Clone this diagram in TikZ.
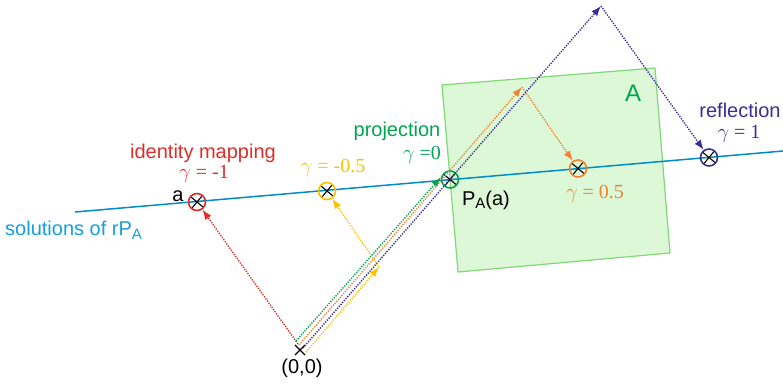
\documentclass[tikz,border=0pt]{standalone}
\usepackage{fontspec}
\setmainfont{Liberation Sans}
\newfontfamily\gserif{Liberation Serif}
\usetikzlibrary{arrows.meta,shapes.misc,calc}
\definecolor{cred}{RGB}{225,45,40}
\definecolor{cyel}{RGB}{250,195,0}
\definecolor{cgrn}{RGB}{0,165,80}
\definecolor{corg}{RGB}{240,130,50}
\definecolor{cpur}{RGB}{60,45,150}
\definecolor{cline}{RGB}{0,140,200}
\definecolor{clab}{RGB}{20,160,220}
\definecolor{boxfill}{RGB}{220,248,215}
\definecolor{boxdraw}{RGB}{130,215,120}
\newcommand{\subA}{\raisebox{-0.35ex}{\fontsize{15}{15}\selectfont A}}
\begin{document}
\begin{tikzpicture}[x=1pt,y=-1pt,
  xcirc/.style={circle, draw=#1, line width=1.6pt, minimum size=17pt, inner sep=0pt,
    path picture={\draw[black, line width=1.1pt]
      ([shift={(-6,-5)}]path picture bounding box.center) -- ([shift={(6,5)}]path picture bounding box.center)
      ([shift={(-5,6)}]path picture bounding box.center) -- ([shift={(5,-6)}]path picture bounding box.center);}},
  vec/.style={draw=#1, line width=1.4pt, dash pattern=on 1.3pt off 1.3pt, -{Latex[length=10pt,width=7.5pt]}},
  lab/.style={text=#1, font=\fontsize{20}{24}\selectfont, inner sep=0pt},
  glab/.style={text=#1, font=\gserif\fontsize{20}{24}\selectfont, inner sep=0pt},
  every node/.append style={inner sep=0pt}]
\useasboundingbox (0,0) rectangle (783,384);
% box A
\draw[fill=boxfill, draw=boxdraw, line width=1.2pt] (442,85) -- (655,68) -- (670,253) -- (458,272) -- cycle;
\node[lab=cgrn, font=\fontsize{24}{28}\selectfont] (Alab) at (633,93) {A};
% line of solutions
\coordinate (L1) at (75,212);
\coordinate (L2) at (783,151);
\draw[cline, line width=1.5pt] (L1) -- (L2);
\node[lab=clab, anchor=west] (sol) at (5,230) {solutions of rP\subA};
% origin
\node[cross out, draw=black, line width=1.1pt, minimum size=9pt] (O) at (300,350) {};
\node[lab=black] (Olab) at (302,368) {(0,0)};
% points on line
\node[xcirc=cred] (a) at (197,202) {};
\node[xcirc=cyel] (gm) at (327,191) {};
\node[xcirc=cgrn] (pa) at (450,179.5) {};
\node[xcirc=corg] (gp) at (578,168.5) {};
\node[xcirc=cpur] (rf) at (709,157.5) {};
% start coordinates
\coordinate (sr) at (298,344);
\coordinate (sg) at (296,341);
\coordinate (so) at (299,345);
\coordinate (sp) at (303,348);
\coordinate (sy) at (306,352);
\coordinate (ty) at (379,267);
\coordinate (to) at (522,87);
\coordinate (tp) at (601,6);
% vectors
\draw[vec=cred] (sr) -- (a);
\draw[vec=cgrn] (sg) -- (pa.165);
\draw[vec=corg] (so) -- (to);
\draw[vec=corg] (to) -- (gp);
\draw[vec=cpur] (sp) -- (tp);
\draw[vec=cpur] (tp) -- (rf);
\draw[vec=cyel] (sy) -- (ty);
\draw[vec=cyel] (ty) -- (gm);
% labels
\node[lab=cred] (idl) at (203,153) {identity mapping};
\node[glab=cred] (g1) at (204,174) {$\gamma$ = -1};
\node[lab=black] (alab) at (178,196) {a};
\node[glab=cyel] (g2) at (333,168) {$\gamma$ = -0.5};
\node[lab=cgrn] (prl) at (397,131) {projection};
\node[glab=cgrn] (g3) at (422,155) {$\gamma$ =0};
\node[lab=black] (pal) at (486,200) {P\subA(a)};
\node[glab=corg] (g4) at (595,194) {$\gamma$ = 0.5};
\node[lab=cpur] (rfl) at (740,110) {reflection};
\node[glab=cpur] (g5) at (739,134) {$\gamma$ = 1};
\end{tikzpicture}
\end{document}
